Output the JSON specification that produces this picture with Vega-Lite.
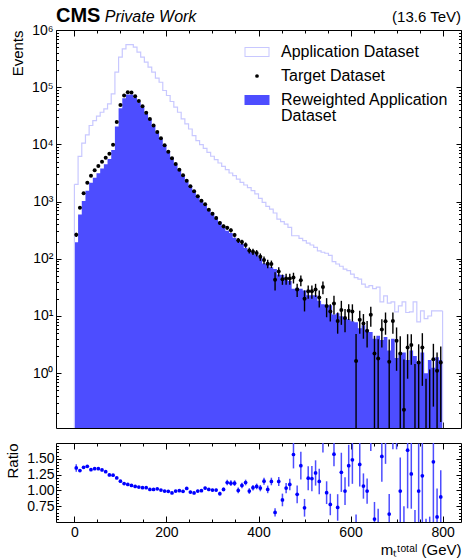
{
"$schema":"https://vega.github.io/schema/vega-lite/v6.json",
"background":"white",
"padding":{"left":5,"top":5,"right":1,"bottom":5},
"spacing":13,
"config":{
 "font":"Liberation Sans",
 "view":{"stroke":"black","strokeWidth":1},
 "axis":{"grid":false,"domain":false,"labelFont":"Liberation Sans","labelFontSize":14,"labelColor":"black","titleFont":"Liberation Sans","titleFontSize":15,"titleFontWeight":"normal","titleColor":"black","tickColor":"black","tickWidth":1}
},
"datasets":{
"edges":[
{"x":0,"a":2005,"f":194},{"x":8,"a":6190,"f":595},{"x":16,"a":10500,"f":1023},{"x":24,"a":14700,"f":1551},{"x":32,"a":21400,"f":2139},{"x":40,"a":26100,"f":2623},{"x":48,"a":31100,"f":3122},{"x":56,"a":36500,"f":3772},{"x":64,"a":41800,"f":4518},{"x":72,"a":51100,"f":5534},
{"x":80,"a":76400,"f":7976},{"x":88,"a":183000,"f":20620},{"x":96,"a":335000,"f":42760},{"x":104,"a":469000,"f":64290},{"x":112,"a":557000,"f":74680},{"x":120,"a":557000,"f":74680},{"x":128,"a":501000,"f":65380},{"x":136,"a":410000,"f":54660},{"x":144,"a":335000,"f":44630},{"x":152,"a":274000,"f":34450},
{"x":160,"a":224000,"f":27460},{"x":168,"a":183000,"f":20960},{"x":176,"a":144000,"f":16080},{"x":184,"a":122000,"f":12720},{"x":192,"a":87600,"f":9760},{"x":200,"a":71600,"f":7580},{"x":208,"a":56200,"f":5960},{"x":216,"a":44700,"f":4600},{"x":224,"a":36500,"f":3630},{"x":232,"a":27900,"f":2920},
{"x":240,"a":22800,"f":2250},{"x":248,"a":18600,"f":1900},{"x":256,"a":14200,"f":1575},{"x":264,"a":11600,"f":1250},{"x":272,"a":9900,"f":1040},{"x":280,"a":8550,"f":865},{"x":288,"a":7280,"f":710},{"x":296,"a":6200,"f":611},{"x":304,"a":5400,"f":513},{"x":312,"a":4730,"f":445},
{"x":320,"a":4140,"f":363},{"x":328,"a":3620,"f":310},{"x":336,"a":3160,"f":282},{"x":344,"a":2840,"f":233},{"x":352,"a":2480,"f":210},{"x":360,"a":2170,"f":182},{"x":368,"a":1950,"f":155},{"x":376,"a":1750,"f":141},{"x":384,"a":1550,"f":128},{"x":392,"a":1360,"f":119},
{"x":400,"a":1140,"f":104},{"x":408,"a":970,"f":83},{"x":416,"a":826,"f":81},{"x":424,"a":741,"f":71},{"x":432,"a":631,"f":66},{"x":440,"a":495,"f":53},{"x":448,"a":445,"f":52},{"x":456,"a":405,"f":43},{"x":464,"a":355,"f":41},{"x":472,"a":253,"f":30},
{"x":480,"a":253,"f":31},{"x":488,"a":228,"f":30},{"x":496,"a":207,"f":28},{"x":504,"a":188,"f":23},{"x":512,"a":174,"f":23},{"x":520,"a":158,"f":23},{"x":528,"a":138,"f":18.4},{"x":536,"a":130,"f":16},{"x":544,"a":125,"f":15.6},{"x":552,"a":115,"f":15.4},
{"x":560,"a":89,"f":10.6},{"x":568,"a":81,"f":11.2},{"x":576,"a":74,"f":9.9},{"x":584,"a":66,"f":9.3},{"x":592,"a":62,"f":8.8},{"x":600,"a":54,"f":8.1},{"x":608,"a":47,"f":7.8},{"x":616,"a":44,"f":6.1},{"x":624,"a":36,"f":6.9},{"x":632,"a":32,"f":5.6},
{"x":640,"a":34,"f":5.25},{"x":648,"a":30,"f":4.0},{"x":656,"a":32,"f":4.5},{"x":664,"a":17.7,"f":3.8},{"x":672,"a":22.5,"f":4.3},{"x":680,"a":16.8,"f":2.5},{"x":688,"a":17.7,"f":4.0},{"x":696,"a":11.8,"f":1.85},{"x":704,"a":15,"f":2.2},{"x":712,"a":17.7,"f":2.3},
{"x":720,"a":11.5,"f":1.7},{"x":728,"a":11.8,"f":2.5},{"x":736,"a":17.7,"f":2.0},{"x":744,"a":7.9,"f":1.55},{"x":752,"a":12.3,"f":2.3},{"x":760,"a":9,"f":1.0},{"x":768,"a":10,"f":1.7},{"x":776,"a":12.3,"f":1.25},{"x":784,"a":12.3,"f":1.9},{"x":792,"a":12.3,"f":1.7},
{"x":800,"a":12.3,"f":1.7}
],
"bins":[
{"x":4,"t":263,"tlo":240,"thi":286,"r":1.355,"rlo":1.295,"rhi":1.415},
{"x":12,"t":781,"tlo":741,"thi":821,"r":1.313,"rlo":1.293,"rhi":1.333},
{"x":20,"t":1397,"tlo":1344,"thi":1450,"r":1.366,"rlo":1.346,"rhi":1.386},
{"x":28,"t":2142,"tlo":2077,"thi":2207,"r":1.381,"rlo":1.361,"rhi":1.401},
{"x":36,"t":2840,"tlo":2765,"thi":2915,"r":1.328,"rlo":1.308,"rhi":1.348},
{"x":44,"t":3525,"tlo":3441,"thi":3609,"r":1.344,"rlo":1.324,"rhi":1.364},
{"x":52,"t":4196,"tlo":4104,"thi":4288,"r":1.344,"rlo":1.324,"rhi":1.364},
{"x":60,"t":4990,"tlo":4890,"thi":5090,"r":1.323,"rlo":1.303,"rhi":1.343},
{"x":68,"t":5860,"tlo":5752,"thi":5968,"r":1.297,"rlo":1.277,"rhi":1.317},
{"x":76,"t":6890,"tlo":6773,"thi":7007,"r":1.245,"rlo":1.225,"rhi":1.265},
{"x":84,"t":9890,"tlo":9749,"thi":10031,"r":1.24,"rlo":1.23,"rhi":1.25},
{"x":92,"t":24700,"tlo":24478,"thi":24922,"r":1.198,"rlo":1.188,"rhi":1.208},
{"x":100,"t":49000,"tlo":48687,"thi":49313,"r":1.146,"rlo":1.136,"rhi":1.156},
{"x":108,"t":71300,"tlo":70922,"thi":71678,"r":1.109,"rlo":1.099,"rhi":1.119},
{"x":116,"t":81700,"tlo":81296,"thi":82104,"r":1.094,"rlo":1.084,"rhi":1.104},
{"x":124,"t":80500,"tlo":80099,"thi":80901,"r":1.078,"rlo":1.068,"rhi":1.088},
{"x":132,"t":69500,"tlo":69127,"thi":69873,"r":1.063,"rlo":1.053,"rhi":1.073},
{"x":140,"t":57500,"tlo":57161,"thi":57839,"r":1.052,"rlo":1.042,"rhi":1.062},
{"x":148,"t":46500,"tlo":46195,"thi":46805,"r":1.042,"rlo":1.032,"rhi":1.052},
{"x":156,"t":35900,"tlo":35632,"thi":36168,"r":1.042,"rlo":1.032,"rhi":1.052},
{"x":164,"t":27900,"tlo":27664,"thi":28136,"r":1.016,"rlo":1.006,"rhi":1.026},
{"x":172,"t":21300,"tlo":21094,"thi":21506,"r":1.016,"rlo":1.006,"rhi":1.026},
{"x":180,"t":16500,"tlo":16318,"thi":16682,"r":1.026,"rlo":1.016,"rhi":1.036},
{"x":188,"t":12800,"tlo":12640,"thi":12960,"r":1.006,"rlo":0.996,"rhi":1.016},
{"x":196,"t":9660,"tlo":9521,"thi":9799,"r":0.99,"rlo":0.98,"rhi":1.0},
{"x":204,"t":7470,"tlo":7348,"thi":7592,"r":0.985,"rlo":0.975,"rhi":0.995},
{"x":212,"t":5720,"tlo":5613,"thi":5827,"r":0.959,"rlo":0.949,"rhi":0.969},
{"x":220,"t":4550,"tlo":4455,"thi":4645,"r":0.99,"rlo":0.98,"rhi":1.0},
{"x":228,"t":3610,"tlo":3525,"thi":3695,"r":0.995,"rlo":0.985,"rhi":1.005},
{"x":236,"t":2880,"tlo":2804,"thi":2956,"r":0.985,"rlo":0.975,"rhi":0.995},
{"x":244,"t":2320,"tlo":2252,"thi":2388,"r":1.031,"rlo":1.021,"rhi":1.041},
{"x":252,"t":1850,"tlo":1789,"thi":1911,"r":0.974,"rlo":0.954,"rhi":0.994},
{"x":260,"t":1510,"tlo":1455,"thi":1565,"r":0.959,"rlo":0.939,"rhi":0.979},
{"x":268,"t":1240,"tlo":1190,"thi":1290,"r":0.99,"rlo":0.97,"rhi":1.01},
{"x":276,"t":1037,"tlo":991,"thi":1083,"r":0.995,"rlo":0.975,"rhi":1.015},
{"x":284,"t":896,"tlo":854,"thi":938,"r":1.036,"rlo":1.016,"rhi":1.056},
{"x":292,"t":721,"tlo":683,"thi":759,"r":1.016,"rlo":0.996,"rhi":1.036},
{"x":300,"t":614,"tlo":579,"thi":649,"r":1.005,"rlo":0.985,"rhi":1.025},
{"x":308,"t":516,"tlo":484,"thi":548,"r":1.005,"rlo":0.985,"rhi":1.025},
{"x":316,"t":422,"tlo":393,"thi":451,"r":0.948,"rlo":0.918,"rhi":0.978},
{"x":324,"t":369,"tlo":342,"thi":396,"r":1.016,"rlo":0.986,"rhi":1.046},
{"x":332,"t":349,"tlo":323,"thi":375,"r":1.125,"rlo":1.08,"rhi":1.17},
{"x":340,"t":314,"tlo":289,"thi":339,"r":1.115,"rlo":1.07,"rhi":1.16},
{"x":348,"t":260,"tlo":237,"thi":283,"r":1.115,"rlo":1.07,"rhi":1.16},
{"x":356,"t":210,"tlo":189.5,"thi":230.5,"r":1.0,"rlo":0.955,"rhi":1.045},
{"x":364,"t":196,"tlo":176,"thi":216,"r":1.078,"rlo":1.033,"rhi":1.123},
{"x":372,"t":174,"tlo":155.3,"thi":192.7,"r":1.125,"rlo":1.08,"rhi":1.17},
{"x":380,"t":140,"tlo":123.3,"thi":156.7,"r":0.99,"rlo":0.945,"rhi":1.035},
{"x":388,"t":133,"tlo":116.7,"thi":149.3,"r":1.042,"rlo":0.997,"rhi":1.087},
{"x":396,"t":126,"tlo":110.1,"thi":141.9,"r":1.063,"rlo":1.018,"rhi":1.108},
{"x":404,"t":108,"tlo":92,"thi":124,"r":1.036,"rlo":0.986,"rhi":1.086},
{"x":412,"t":95,"tlo":80,"thi":110,"r":1.146,"rlo":1.091,"rhi":1.201},
{"x":420,"t":82,"tlo":68,"thi":96,"r":1.016,"rlo":0.956,"rhi":1.076},
{"x":428,"t":81,"tlo":69,"thi":93,"r":1.141,"rlo":1.081,"rhi":1.201},
{"x":436,"t":43,"tlo":28,"thi":58,"r":0.652,"rlo":0.587,"rhi":0.717},
{"x":444,"t":60,"tlo":49,"thi":71,"r":1.141,"rlo":1.071,"rhi":1.211},
{"x":452,"t":44,"tlo":35,"thi":53,"r":0.849,"rlo":0.749,"rhi":0.949},
{"x":460,"t":45,"tlo":35,"thi":55,"r":1.036,"rlo":0.956,"rhi":1.116},
{"x":468,"t":45,"tlo":35,"thi":55,"r":1.094,"rlo":1.004,"rhi":1.184},
{"x":476,"t":47,"tlo":37,"thi":57,"r":1.568,"rlo":1.348,"rhi":1.788},
{"x":484,"t":29,"tlo":21.5,"thi":36.5,"r":0.938,"rlo":0.798,"rhi":1.078},
{"x":492,"t":42,"tlo":33,"thi":51,"r":1.391,"rlo":1.171,"rhi":1.611},
{"x":500,"t":20,"tlo":12,"thi":28,"r":0.725,"rlo":0.585,"rhi":0.865},
{"x":508,"t":27,"tlo":20,"thi":34,"r":1.193,"rlo":1.003,"rhi":1.383},
{"x":516,"t":27,"tlo":20,"thi":34,"r":1.188,"rlo":0.988,"rhi":1.388},
{"x":524,"t":29,"tlo":21.5,"thi":36.5,"r":1.276,"rlo":1.076,"rhi":1.476},
{"x":532,"t":21,"tlo":14,"thi":28,"r":1.141,"rlo":0.941,"rhi":1.341},
{"x":540,"t":32,"tlo":24,"thi":40,"r":2.0,"rlo":1.6,"rhi":2.4},
{"x":548,"t":15,"tlo":9.5,"thi":20.5,"r":0.964,"rlo":0.784,"rhi":1.144},
{"x":556,"t":12,"tlo":8,"thi":16,"r":0.777,"rlo":0.607,"rhi":0.947},
{"x":564,"t":16.6,"tlo":10.6,"thi":22.6,"r":1.573,"rlo":1.383,"rhi":1.763},
{"x":572,"t":8.2,"tlo":4.9,"thi":11.5,"r":0.73,"rlo":0.52,"rhi":0.94},
{"x":580,"t":12.7,"tlo":7,"thi":18.4,"r":1.286,"rlo":0.976,"rhi":1.596},
{"x":588,"t":9.2,"tlo":5.2,"thi":13.2,"r":0.99,"rlo":0.77,"rhi":1.21},
{"x":596,"t":12.3,"tlo":8.5,"thi":16.1,"r":1.391,"rlo":1.061,"rhi":1.721},
{"x":604,"t":12,"tlo":8,"thi":16,"r":1.484,"rlo":1.104,"rhi":1.864},
{"x":612,"t":1.64,"tlo":0.01,"thi":4.84,"r":0.21,"rlo":-0.2,"rhi":0.62},
{"x":620,"t":8.6,"tlo":4.9,"thi":12.3,"r":1.41,"rlo":1.06,"rhi":1.76},
{"x":628,"t":7.4,"tlo":4,"thi":10.8,"r":1.069,"rlo":0.869,"rhi":1.269},
{"x":636,"t":5.5,"tlo":2.8,"thi":8.2,"r":0.99,"rlo":0.79,"rhi":1.19},
{"x":644,"t":10.5,"tlo":6.5,"thi":14.5,"r":2.0,"rlo":1.625,"rhi":2.375},
{"x":652,"t":2.2,"tlo":0.01,"thi":4.5,"r":0.547,"rlo":0.277,"rhi":0.817},
{"x":660,"t":1.8,"tlo":0.01,"thi":3.9,"r":0.4,"rlo":0.09,"rhi":0.71},
{"x":668,"t":5.8,"tlo":2.8,"thi":8.8,"r":1.537,"rlo":1.137,"rhi":1.937},
{"x":676,"t":8.1,"tlo":4.7,"thi":11.5,"r":1.9,"rlo":1.42,"rhi":2.38},
{"x":684,"t":1.58,"tlo":0.01,"thi":3.88,"r":0.625,"rlo":0.305,"rhi":0.945},
{"x":692,"t":8.2,"tlo":4.9,"thi":11.5,"r":2.05,"rlo":1.65,"rhi":2.45},
{"x":700,"t":3.7,"tlo":1.1,"thi":6.3,"r":2.0,"rlo":1.65,"rhi":2.35},
{"x":708,"t":2.2,"tlo":0.01,"thi":4.4,"r":0.99,"rlo":0.46,"rhi":1.52},
{"x":716,"t":0.23,"tlo":0.01,"thi":1.73,"r":0.1,"rlo":-0.55,"rhi":0.75},
{"x":724,"t":2.8,"tlo":0.8,"thi":4.8,"r":1.636,"rlo":0.716,"rhi":2.556},
{"x":732,"t":3.1,"tlo":1.4,"thi":4.8,"r":1.26,"rlo":0.71,"rhi":1.81},
{"x":740,"t":0.08,"tlo":0.01,"thi":1.44,"r":0.04,"rlo":-0.61,"rhi":0.69},
{"x":748,"t":1.54,"tlo":0.01,"thi":3.2,"r":0.99,"rlo":0.24,"rhi":1.74},
{"x":756,"t":2.8,"tlo":0.6,"thi":5.0,"r":1.23,"rlo":0.38,"rhi":2.08},
{"x":764,"t":0.05,"tlo":0.01,"thi":0.8,"r":0.05,"rlo":-0.45,"rhi":0.55},
{"x":772,"t":0.06,"tlo":0.01,"thi":1.16,"r":0.035,"rlo":-0.515,"rhi":0.585},
{"x":780,"t":1.76,"tlo":0.26,"thi":3.26,"r":1.453,"rlo":0.453,"rhi":2.453},
{"x":788,"t":1.1,"tlo":0.01,"thi":2.3,"r":0.58,"rlo":0.13,"rhi":1.03},
{"x":796,"t":1.54,"tlo":0.14,"thi":2.94,"r":0.897,"rlo":0.477,"rhi":1.317}
]
},
"vconcat":[
{
 "width":405,"height":398,
 "resolve":{"axis":{"x":"independent","y":"independent"}},
 "layer":[
  {"data":{"name":"edges"},
   "mark":{"type":"area","interpolate":"step-after","clip":true,"opacity":1},
   "encoding":{
    "x":{"field":"x","type":"quantitative","scale":{"domain":[-40,840],"nice":false,"zero":false},
         "axis":{"orient":"bottom","values":[0,200,400,600,800],"labels":false,"tickSize":-6,"title":null}},
    "y":{"field":"f","type":"quantitative","scale":{"type":"log","domain":[0.11,1000000],"nice":false},
         "axis":{"orient":"left","values":[1,10,100,1000,10000,100000,1000000],"tickSize":-5,"labelPadding":8,
                 "labelExpr":"'10' + ['⁰','¹','²','³','⁴','⁵','⁶'][round(log(datum.value)/LN10)]",
                 "title":"Events","titleAnchor":"end","titlePadding":6}},
    "y2":{"datum":0.001},
    "color":{"datum":"Reweighted Application Dataset","type":"nominal",
      "scale":{"domain":["Application Dataset","Target Dataset","Reweighted Application Dataset"],"range":["#c8c8ff","#000000","#4d4dff"]},
      "legend":{"title":null,"orient":"top-right","offset":12,"padding":0,"labelFont":"Liberation Sans","labelFontSize":16,"labelColor":"black","labelLimit":300,"symbolSize":400,"labelOffset":14,"rowPadding":6,
        "labelExpr":"datum.label == 'Reweighted Application Dataset' ? ['Reweighted Application','Dataset'] : datum.label",
        "encoding":{
         "labels":{"lineHeight":{"value":16}},
         "symbols":{
          "shape":{"value":{"expr":"datum.value == 'Target Dataset' ? 'circle' : (datum.value == 'Application Dataset' ? 'M-1.25,-0.5H1.25V0.5H-1.25ZM-1.15,-0.4V0.4H1.15V-0.4Z' : 'M-1.25,-0.5H1.25V0.5H-1.25Z')"}},
          "size":{"value":{"expr":"datum.value == 'Target Dataset' ? 14 : 400"}},
          "fill":{"value":{"expr":"datum.value == 'Application Dataset' ? '#c8c8ff' : (datum.value == 'Target Dataset' ? 'black' : '#4d4dff')"}},
          "stroke":{"value":"transparent"},
          "strokeWidth":{"value":0},
          "opacity":{"value":1},"fillOpacity":{"value":1}}}}}
   }},
  {"data":{"name":"edges"},
   "mark":{"type":"line","interpolate":"step-after","clip":true,"strokeWidth":1.2},
   "encoding":{
    "x":{"field":"x","type":"quantitative","axis":{"orient":"bottom","values":[50,100,150,250,300,350,450,500,550,650,700,750],"labels":false,"tickSize":-3,"title":null}},
    "y":{"field":"a","type":"quantitative","axis":{"orient":"left","values":[0.2,0.3,0.4,0.5,0.6,0.7,0.8,0.9,2,3,4,5,6,7,8,9,20,30,40,50,60,70,80,90,200,300,400,500,600,700,800,900,2000,3000,4000,5000,6000,7000,8000,9000,20000,30000,40000,50000,60000,70000,80000,90000,200000,300000,400000,500000,600000,700000,800000,900000],"labels":false,"tickSize":-2.5,"title":null}},
    "color":{"datum":"Application Dataset","type":"nominal"}
   }},
  {"data":{"name":"edges"},
   "transform":[{"filter":"datum.x == 0 || datum.x == 800"}],
   "mark":{"type":"rule","clip":true,"strokeWidth":1.2},
   "encoding":{
    "x":{"field":"x","type":"quantitative","axis":null},
    "y":{"field":"a","type":"quantitative","axis":null},
    "y2":{"datum":0.001},
    "color":{"datum":"Application Dataset","type":"nominal"}
   }},
  {"data":{"name":"bins"},
   "mark":{"type":"rule","clip":true,"strokeWidth":1.4,"color":"black"},
   "encoding":{
    "x":{"field":"x","type":"quantitative","axis":{"orient":"top","values":[0,200,400,600,800],"labels":false,"tickSize":-6,"title":null}},
    "y":{"field":"tlo","type":"quantitative","axis":{"orient":"right","values":[1,10,100,1000,10000,100000,1000000],"labels":false,"tickSize":-5,"title":null}},
    "y2":{"field":"thi"}
   }},
  {"data":{"name":"bins"},
   "mark":{"type":"point","filled":true,"clip":true,"size":16,"opacity":1},
   "encoding":{
    "x":{"field":"x","type":"quantitative","axis":{"orient":"top","values":[50,100,150,250,300,350,450,500,550,650,700,750],"labels":false,"tickSize":-3,"title":null}},
    "y":{"field":"t","type":"quantitative","axis":{"orient":"right","values":[0.2,0.3,0.4,0.5,0.6,0.7,0.8,0.9,2,3,4,5,6,7,8,9,20,30,40,50,60,70,80,90,200,300,400,500,600,700,800,900,2000,3000,4000,5000,6000,7000,8000,9000,20000,30000,40000,50000,60000,70000,80000,90000,200000,300000,400000,500000,600000,700000,800000,900000],"labels":false,"tickSize":-2.5,"title":null}},
    "color":{"datum":"Target Dataset","type":"nominal"}
   }},
  {"data":{"values":[{"s":"CMS","px":-40}]},
   "mark":{"type":"text","align":"left","baseline":"alphabetic","dy":-8,"font":"Liberation Sans","fontSize":20,"fontWeight":"bold","color":"black","clip":false},
   "encoding":{"x":{"field":"px","type":"quantitative","axis":null},"y":{"datum":1000000,"type":"quantitative","axis":null},"text":{"field":"s"}}},
  {"data":{"values":[{"s":"Private Work","px":66}]},
   "mark":{"type":"text","align":"left","baseline":"alphabetic","dy":-8,"font":"Liberation Sans","fontSize":16,"fontStyle":"italic","color":"black","clip":false},
   "encoding":{"x":{"field":"px","type":"quantitative","axis":null},"y":{"datum":1000000,"type":"quantitative","axis":null},"text":{"field":"s"}}},
  {"data":{"values":[{"s":"(13.6 TeV)","px":840}]},
   "mark":{"type":"text","align":"right","baseline":"alphabetic","dy":-8,"font":"Liberation Sans","fontSize":15,"color":"black","clip":false},
   "encoding":{"x":{"field":"px","type":"quantitative","axis":null},"y":{"datum":1000000,"type":"quantitative","axis":null},"text":{"field":"s"}}}
 ]
},
{
 "width":405,"height":79,
 "resolve":{"axis":{"x":"independent","y":"independent"}},
 "layer":[
  {"mark":{"type":"rule","strokeDash":[3,2],"strokeWidth":1.2,"color":"#444444"},
   "encoding":{"y":{"datum":1,"type":"quantitative","scale":{"domain":[0.5,1.75],"nice":false,"zero":false},"axis":null}}},
  {"data":{"name":"bins"},
   "mark":{"type":"rule","clip":true,"strokeWidth":1.5,"color":"#4d4dff"},
   "encoding":{
    "x":{"field":"x","type":"quantitative","scale":{"domain":[-40,840],"nice":false,"zero":false},
         "axis":{"orient":"bottom","values":[0,200,400,600,800],"tickSize":-6,"labelPadding":9,"title":"mₜᵗᵒᵗᵃˡ (GeV)","titleAnchor":"end","titlePadding":3,"titleFontSize":15}},
    "y":{"field":"rlo","type":"quantitative","scale":{"domain":[0.5,1.75],"nice":false,"zero":false},
         "axis":{"orient":"left","values":[0.75,1.0,1.25,1.5],"format":".2f","tickSize":-5,"labelPadding":7,"title":"Ratio","titleAnchor":"end","titlePadding":6}},
    "y2":{"field":"rhi"}
   }},
  {"data":{"name":"bins"},
   "mark":{"type":"point","filled":true,"clip":true,"size":14,"color":"#0000ff","opacity":1},
   "encoding":{
    "x":{"field":"x","type":"quantitative","axis":{"orient":"bottom","values":[50,100,150,250,300,350,450,500,550,650,700,750],"labels":false,"tickSize":-3,"title":null}},
    "y":{"field":"r","type":"quantitative","axis":{"orient":"left","values":[0.55,0.6,0.65,0.7,0.8,0.85,0.9,0.95,1.05,1.1,1.15,1.2,1.3,1.35,1.4,1.45,1.55,1.6,1.65,1.7],"labels":false,"tickSize":-2.5,"title":null}}
   }},
  {"data":{"name":"bins"},
   "mark":{"type":"point","filled":true,"clip":true,"size":14,"color":"#0000ff","opacity":0},
   "encoding":{
    "x":{"field":"x","type":"quantitative","axis":{"orient":"top","values":[0,200,400,600,800],"labels":false,"tickSize":-6,"title":null}},
    "y":{"field":"r","type":"quantitative","axis":{"orient":"right","values":[0.75,1.0,1.25,1.5],"labels":false,"tickSize":-5,"title":null}}
   }},
  {"data":{"name":"bins"},
   "mark":{"type":"point","filled":true,"clip":true,"size":14,"color":"#0000ff","opacity":0},
   "encoding":{
    "x":{"field":"x","type":"quantitative","axis":{"orient":"top","values":[50,100,150,250,300,350,450,500,550,650,700,750],"labels":false,"tickSize":-3,"title":null}},
    "y":{"field":"r","type":"quantitative","axis":{"orient":"right","values":[0.55,0.6,0.65,0.7,0.8,0.85,0.9,0.95,1.05,1.1,1.15,1.2,1.3,1.35,1.4,1.45,1.55,1.6,1.65,1.7],"labels":false,"tickSize":-2.5,"title":null}}
   }}
 ]
}
]
}
